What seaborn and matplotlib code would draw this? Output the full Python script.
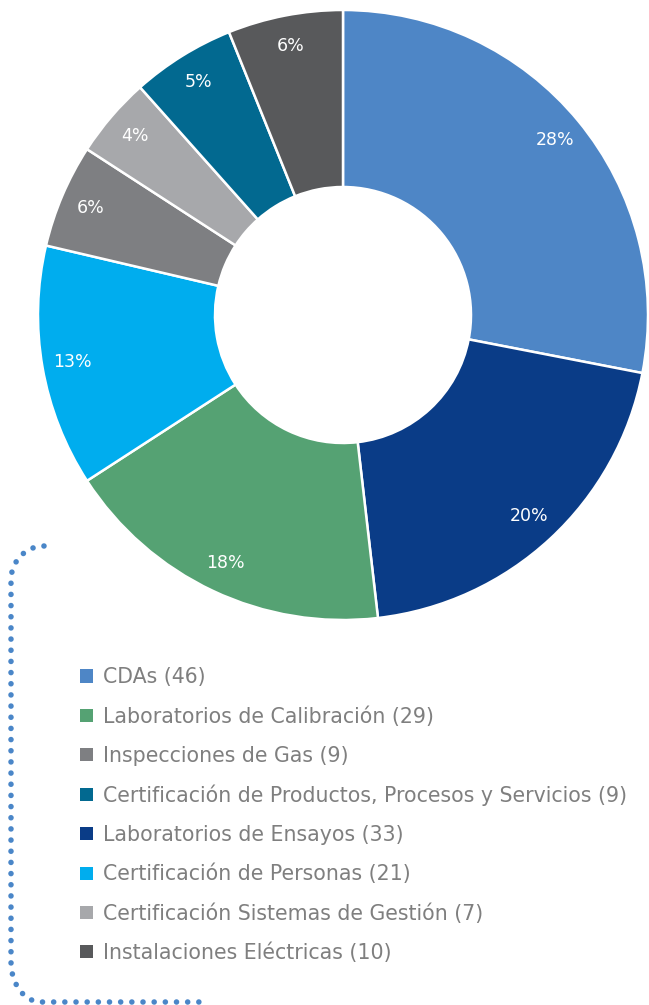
import seaborn as sns
import matplotlib.pyplot as plt
from matplotlib.patches import Patch
import numpy as np

# pie order (clockwise from 12 o'clock)
categories = ["CDAs", "Laboratorios de Ensayos", "Laboratorios de Calibración",
              "Certificación de Personas", "Inspecciones de Gas",
              "Certificación Sistemas de Gestión",
              "Certificación de Productos, Procesos y Servicios",
              "Instalaciones Eléctricas"]
counts = [46, 33, 29, 21, 9, 7, 9, 10]
pct_labels = ["28%", "20%", "18%", "13%", "6%", "4%", "5%", "6%"]
colors = ["#4e86c6", "#0a3c87", "#55a273", "#00adee", "#7e7f82",
          "#a7a8ab", "#026990", "#58595b"]
# legend order as in the original
legend_order = ["CDAs", "Laboratorios de Calibración", "Inspecciones de Gas",
                "Certificación de Productos, Procesos y Servicios",
                "Laboratorios de Ensayos", "Certificación de Personas",
                "Certificación Sistemas de Gestión", "Instalaciones Eléctricas"]

sns.set_theme(style="white")
plt.rcParams['font.family'] = ['DejaVu Sans']

W, H = 649, 1005
cx, cy, R = 343, H - 315, 305

fig = plt.figure(figsize=(W / 100, H / 100), dpi=100)
ax = fig.add_axes([0, 0, 1, 1])

wedges, texts = ax.pie(counts, colors=colors, startangle=90, counterclock=False,
                       center=(cx, cy), radius=R,
                       wedgeprops=dict(width=177, edgecolor="white", linewidth=1.8),
                       frame=True)
ax.set_xlim(0, W)
ax.set_ylim(0, H)
ax.set_aspect("equal")
ax.axis("off")

# percent labels inside the ring
total = sum(counts)
ang = 90.0
for val, lab in zip(counts, pct_labels):
    span = 360.0 * val / total
    mid = np.deg2rad(ang - span / 2)
    r = R * 0.9
    ax.text(cx + r * np.cos(mid), cy + r * np.sin(mid), lab,
            ha="center", va="center", color="white", fontsize=12.5)
    ang -= span

# legend
handles = []
for name in legend_order:
    i = categories.index(name)
    handles.append(Patch(facecolor=colors[i], edgecolor="none",
                         label=f"{name} ({counts[i]})"))
leg = fig.legend(handles=handles, loc="upper left", bbox_to_anchor=(72 / W, 1 - 659 / H),
                 frameon=False, fontsize=14.8, handlelength=0.6, handleheight=0.6,
                 handletextpad=0.5, labelspacing=0.92, borderaxespad=0)
for t in leg.get_texts():
    t.set_color("#7f7f7f")

# dotted bracket on the left
t = np.linspace(0, np.pi / 2, 20)
xs = list(44 - 33 * np.sin(t)) + [11, 11] + list(11 + 30 * (1 - np.cos(t))) + [203]
ys = (list(H - 546 - 34 * (1 - np.cos(t))) + [H - 580, H - 962]
      + list(H - 962 - 40 * np.sin(t)) + [H - 1002])
ax.plot(xs, ys, color="#4a86c8", linewidth=4, linestyle=(0, (0.01, 2.0)),
        dash_capstyle="round", solid_capstyle="round")

fig.savefig("out.png", dpi=100)
